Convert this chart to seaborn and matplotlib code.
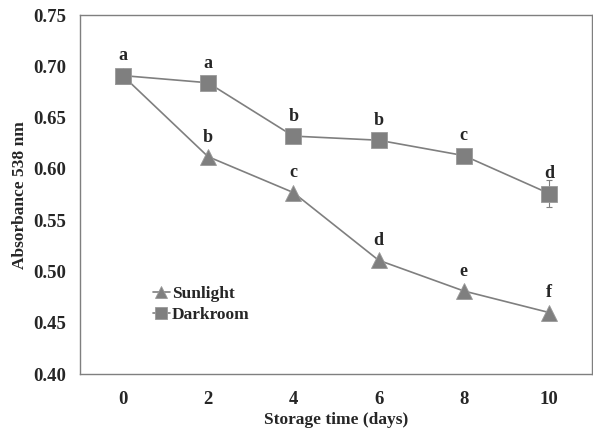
import matplotlib
matplotlib.use("Agg")
import matplotlib.pyplot as plt
import seaborn as sns
import pandas as pd

days = [0, 2, 4, 6, 8, 10]
sunlight = [0.691, 0.612, 0.577, 0.511, 0.481, 0.460]
darkroom = [0.691, 0.684, 0.632, 0.628, 0.613, 0.576]
darkroom_err = [0.002, 0.002, 0.002, 0.002, 0.002, 0.013]
sunlight_letters = ["", "b", "c", "d", "e", "f"]
darkroom_letters = ["a", "a", "b", "b", "c", "d"]

df = pd.concat([
    pd.DataFrame({"day": days, "value": sunlight, "group": "Sunlight"}),
    pd.DataFrame({"day": days, "value": darkroom, "group": "Darkroom"}),
])

sns.set_style("white")
plt.rcParams["font.family"] = ["Liberation Serif", "DejaVu Serif"]
plt.rcParams["font.weight"] = "bold"

grey = "#7f7f7f"
fig, ax = plt.subplots(figsize=(5.93, 4.30), dpi=100)
fig.subplots_adjust(left=0.135, right=0.998, top=0.965, bottom=0.13)

ax.errorbar(days, darkroom, yerr=darkroom_err, fmt="none", ecolor=grey,
            elinewidth=0.8, capsize=2, capthick=0.8, zorder=2)
sns.lineplot(data=df, x="day", y="value", hue="group", style="group",
             markers={"Sunlight": "^", "Darkroom": "s"}, dashes=False,
             palette={"Sunlight": grey, "Darkroom": grey},
             markersize=11, markeredgecolor="#9a9a9a", markeredgewidth=0.6,
             linewidth=1.2, ax=ax, zorder=3)

for x, y, t in zip(days, sunlight, sunlight_letters):
    if t:
        ax.annotate(t, (x, y), xytext=(0, 8), textcoords="offset points",
                    ha="center", va="bottom", fontsize=13, fontweight="bold")
for x, y, t in zip(days, darkroom, darkroom_letters):
    ax.annotate(t, (x, y), xytext=(0, 8), textcoords="offset points",
                ha="center", va="bottom", fontsize=13, fontweight="bold")

ax.set_xlim(-1, 11)
ax.set_ylim(0.40, 0.75)
ax.set_xticks(days)
ax.set_yticks([0.40, 0.45, 0.50, 0.55, 0.60, 0.65, 0.70, 0.75])
ax.set_yticklabels([f"{v:.2f}" for v in [0.40, 0.45, 0.50, 0.55, 0.60, 0.65, 0.70, 0.75]])
ax.tick_params(axis="x", direction="in", length=4, color=grey, labelsize=13.5, pad=12)
ax.tick_params(axis="y", direction="out", length=4, color=grey, labelsize=13.5, pad=6)
for lab in ax.get_xticklabels() + ax.get_yticklabels():
    lab.set_fontweight("bold")
ax.set_xlabel("Storage time (days)", fontsize=12.5, fontweight="bold", labelpad=3)
ax.set_ylabel("Absorbance 538 nm", fontsize=12.5, fontweight="bold", labelpad=4)

for s in ax.spines.values():
    s.set_visible(True)
    s.set_color(grey)
    s.set_linewidth(1.0)

leg = ax.legend(title=None, loc="upper left", bbox_to_anchor=(0.128, 0.265),
                frameon=False, fontsize=12.5, handlelength=1.0, handletextpad=0.1,
                labelspacing=0.3, borderaxespad=0, markerscale=0.8)
for t in leg.get_texts():
    t.set_fontweight("bold")

fig.savefig("out.png", dpi=100)
